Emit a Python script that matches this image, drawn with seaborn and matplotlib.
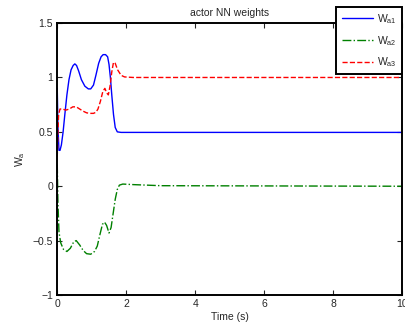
import matplotlib
matplotlib.use("Agg")
import matplotlib.pyplot as plt
import seaborn as sns
import pandas as pd

# time (s) and weight values
t_a1 = [0.00, 0.02, 0.05, 0.08, 0.12, 0.17, 0.22, 0.28, 0.34, 0.40, 0.46, 0.51,
        0.56, 0.62, 0.70, 0.80, 0.90, 0.97, 1.05, 1.12, 1.20, 1.27, 1.33, 1.40,
        1.46, 1.50, 1.54, 1.58, 1.63, 1.68, 1.74, 1.85, 2.5, 10.0]
w_a1 = [0.90, 0.55, 0.33, 0.33, 0.38, 0.50, 0.66, 0.84, 0.98, 1.07, 1.11, 1.125,
        1.11, 1.06, 0.98, 0.92, 0.895, 0.895, 0.93, 1.02, 1.13, 1.19, 1.21, 1.21,
        1.19, 1.12, 1.00, 0.84, 0.66, 0.54, 0.50, 0.495, 0.495, 0.495]

t_a2 = [0.00, 0.02, 0.05, 0.10, 0.18, 0.28, 0.38, 0.48, 0.55, 0.65, 0.75, 0.85,
        0.97, 1.08, 1.16, 1.24, 1.31, 1.37, 1.43, 1.50, 1.56, 1.62, 1.68, 1.74,
        1.80, 1.90, 2.2, 2.6, 3.0, 10.0]
w_a2 = [0.20, -0.15, -0.42, -0.52, -0.58, -0.60, -0.57, -0.51, -0.50, -0.54, -0.59, -0.62,
        -0.625, -0.60, -0.55, -0.44, -0.35, -0.33, -0.36, -0.43, -0.38, -0.25, -0.12, -0.03,
        0.01, 0.02, 0.015, 0.01, 0.005, 0.0]

t_a3 = [0.00, 0.02, 0.04, 0.08, 0.15, 0.25, 0.35, 0.45, 0.55, 0.65, 0.75, 0.85,
        0.95, 1.05, 1.12, 1.18, 1.25, 1.32, 1.38, 1.43, 1.48, 1.53, 1.58, 1.63,
        1.68, 1.75, 1.85, 1.95, 2.2, 10.0]
w_a3 = [0.27, 0.50, 0.66, 0.71, 0.71, 0.70, 0.71, 0.73, 0.73, 0.71, 0.69, 0.675,
        0.67, 0.67, 0.68, 0.71, 0.78, 0.87, 0.90, 0.86, 0.84, 0.92, 1.05, 1.14,
        1.13, 1.07, 1.02, 1.005, 1.0, 1.0]

labels = [r"$\mathregular{W_{a1}}$", r"$\mathregular{W_{a2}}$", r"$\mathregular{W_{a3}}$"]
yticks = [-1, -0.5, 0, 0.5, 1, 1.5]
ytick_labels = ["\u22121", "\u22120.5", "0", "0.5", "1", "1.5"]
xticks = [0, 2, 4, 6, 8, 10]

sns.set_style("ticks")
plt.rcParams["font.family"] = ["Liberation Sans", "DejaVu Sans"]
plt.rcParams["mathtext.fontset"] = "custom"
plt.rcParams["mathtext.rm"] = "Liberation Sans"

fig = plt.figure(figsize=(4.06, 3.28), dpi=100)
ax = fig.add_axes([0.141, 0.1006, 0.850, 0.829])

series = [(t_a1, w_a1, "#0000ff", "-"),
          (t_a2, w_a2, "#008000", "-."),
          (t_a3, w_a3, "#ff0000", "--")]
for (t, w, c, ls), lab in zip(series, labels):
    df = pd.DataFrame({"t": t, "w": w})
    sns.lineplot(data=df, x="t", y="w", ax=ax, color=c, linestyle=ls,
                 linewidth=1.0, label=lab)

ax.set_xlim(0, 10)
ax.set_ylim(-1, 1.5)
ax.set_xticks(xticks)
ax.set_xticklabels([str(v) for v in xticks])
ax.set_yticks(yticks)
ax.set_yticklabels(ytick_labels)
ax.tick_params(direction="in", length=3.5, width=0.8, labelsize=7.5,
               top=True, right=True, pad=3)
for s in ax.spines.values():
    s.set_visible(True)
    s.set_linewidth(1.4)
    s.set_color("black")

ax.set_xlabel("Time (s)", fontsize=7.5, labelpad=2)
ax.set_ylabel(r"$\mathregular{W_a}$", fontsize=7.5, labelpad=4)
ax.set_title("actor NN weights", fontsize=7.5, pad=5)

leg = ax.legend(loc="upper right", bbox_to_anchor=(0.990, 0.979),
                bbox_transform=fig.transFigure, fontsize=7.5, frameon=True,
                fancybox=False, handlelength=3.0, borderpad=0.5,
                labelspacing=0.75, handletextpad=0.4, borderaxespad=0)
leg.get_frame().set_edgecolor("black")
leg.get_frame().set_linewidth(1.4)
leg.get_frame().set_alpha(1)

fig.savefig("out.png", dpi=100)
